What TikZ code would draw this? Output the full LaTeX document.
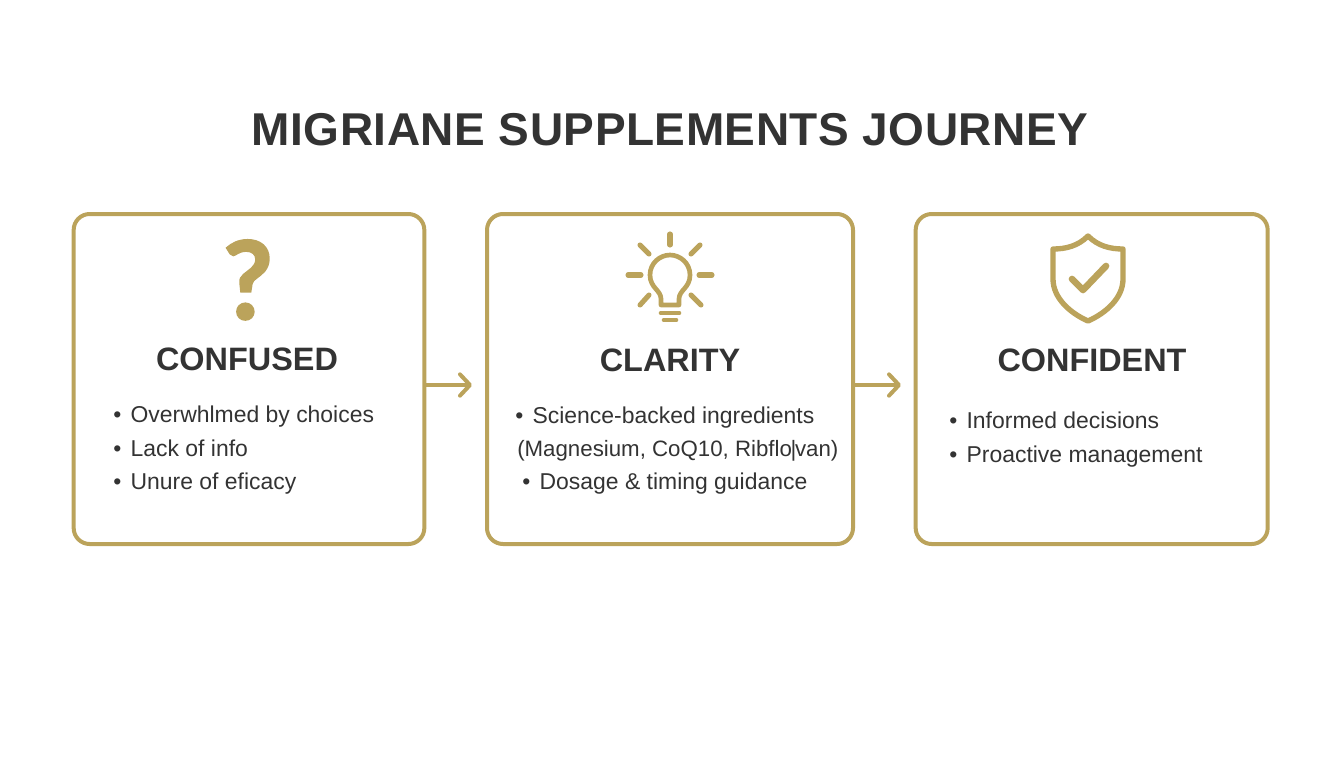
\documentclass[tikz,border=0pt]{standalone}
\usepackage{fontspec}
\setmainfont{Liberation Sans}
\newfontfamily\titlefont[LetterSpace=1.2]{Liberation Sans}
\newfontfamily\markfont[BoldFeatures={FakeBold=2}]{Lato}
\usetikzlibrary{positioning,arrows.meta}
\definecolor{gold}{HTML}{BBA35B}
\definecolor{ink}{HTML}{333333}
\tikzset{
    stage/.style={draw=gold, line width=3pt, rounded corners=12pt, fill=white, outer sep=0pt, minimum height=247.5pt},
    heading/.style={anchor=base, inner sep=0pt, text=ink, font=\fontsize{24.3}{30}\selectfont\bfseries},
    item/.style={anchor=base west, inner sep=0pt, text=ink, font=\fontsize{17.2}{20}\selectfont},
    flow/.style={draw=gold, line width=3pt, -{Straight Barb[length=7.5pt,width=16pt,line width=3pt,round]}},
    icon/.style={draw=gold, line width=3.5pt, line cap=round, line join=round}
}
\newcommand{\bul}{\textbullet\hspace{7pt}}
\begin{document}
\begin{tikzpicture}[x=0.75pt, y=-0.75pt]
    \useasboundingbox (0,0) rectangle (1344,768);
    \fill [white] (0,0) rectangle (1344,768);

    \node [anchor=base, inner sep=0pt, text=ink, font=\fontsize{34.5}{44}\selectfont\titlefont\bfseries] (title) at (670,145) {MIGRIANE SUPPLEMENTS JOURNEY};

    % the three boxes
    \node [stage, minimum width=263pt] (confused) at (249,379) {};
    \node [stage, minimum width=274.5pt, right=47pt of confused] (clarity) {};
    \node [stage, minimum width=264pt, right=47pt of clarity] (confident) {};

    \coordinate (flowa) at (472,385);
    \coordinate (flowb) at (901,385);
    \draw [flow] (confused.east |- flowa) -- (flowa);
    \draw [flow] (clarity.east |- flowb) -- (flowb);

    % question mark
    \node [anchor=base, inner sep=0pt, text=gold, font=\fontsize{81}{90}\selectfont\markfont\bfseries] (qmark) at (248,319) {?};

    % bulb
    \foreach \xa/\ya/\xb/\yb in {670/234/670/245, 699/275/712/275, 628/275/641/275, 691/254/700/245, 640/245/649/254, 640/305/649/295, 691/295/701/305}
        \draw [icon, line width=3.8pt] (\xa,\ya) -- (\xb,\yb);
    \draw [icon] (661,305) -- (661,299) .. controls (661,290) and (650,288) .. (650,275)
        .. controls (650,263) and (660,255) .. (670,255) .. controls (680,255) and (690,263) .. (690,275)
        .. controls (690,288) and (679,290) .. (679,299) -- (679,305) -- cycle;
    \draw [icon] (661,313) -- (679,313);
    \draw [icon] (664,320) -- (676,320);

    % shield
    \draw [icon, line width=4pt] (1088,236) .. controls (1078,246) and (1066,249) .. (1053,249) -- (1053,279)
        .. controls (1053,298) and (1070,313) .. (1088,321) .. controls (1106,313) and (1123,298) .. (1123,279)
        -- (1123,249) .. controls (1110,249) and (1098,246) .. (1088,236) -- cycle;
    \draw [icon, line width=5pt] (1072,279) -- (1083,290) -- (1106,266);

    \node [heading] (confusedhead) at (247,370) {CONFUSED};
    \node [heading] (clarityhead) at (670,371) {CLARITY};
    \node [heading] (confidenthead) at (1092,371) {CONFIDENT};

    \node [item] (confuseda) at (113,422) {\bul Overwhlmed by choices};
    \node [item] (confusedb) at (113,456) {\bul Lack of info};
    \node [item] (confusedc) at (113,489) {\bul Unure of eficacy};

    \node [item] (claritya) at (515,423) {\bul Science-backed ingredients};
    \node [item, font=\fontsize{16.7}{20}\selectfont] (clarityb) at (517,456) {(Magnesium, CoQ10, Ribflo\kern-1pt|\kern-1pt van)};
    \node [item] (clarityc) at (522,489) {\bul Dosage \& timing guidance};

    \node [item] (confidenta) at (949,428) {\bul Informed decisions};
    \node [item] (confidentb) at (949,462) {\bul Proactive management};
\end{tikzpicture}
\end{document}
